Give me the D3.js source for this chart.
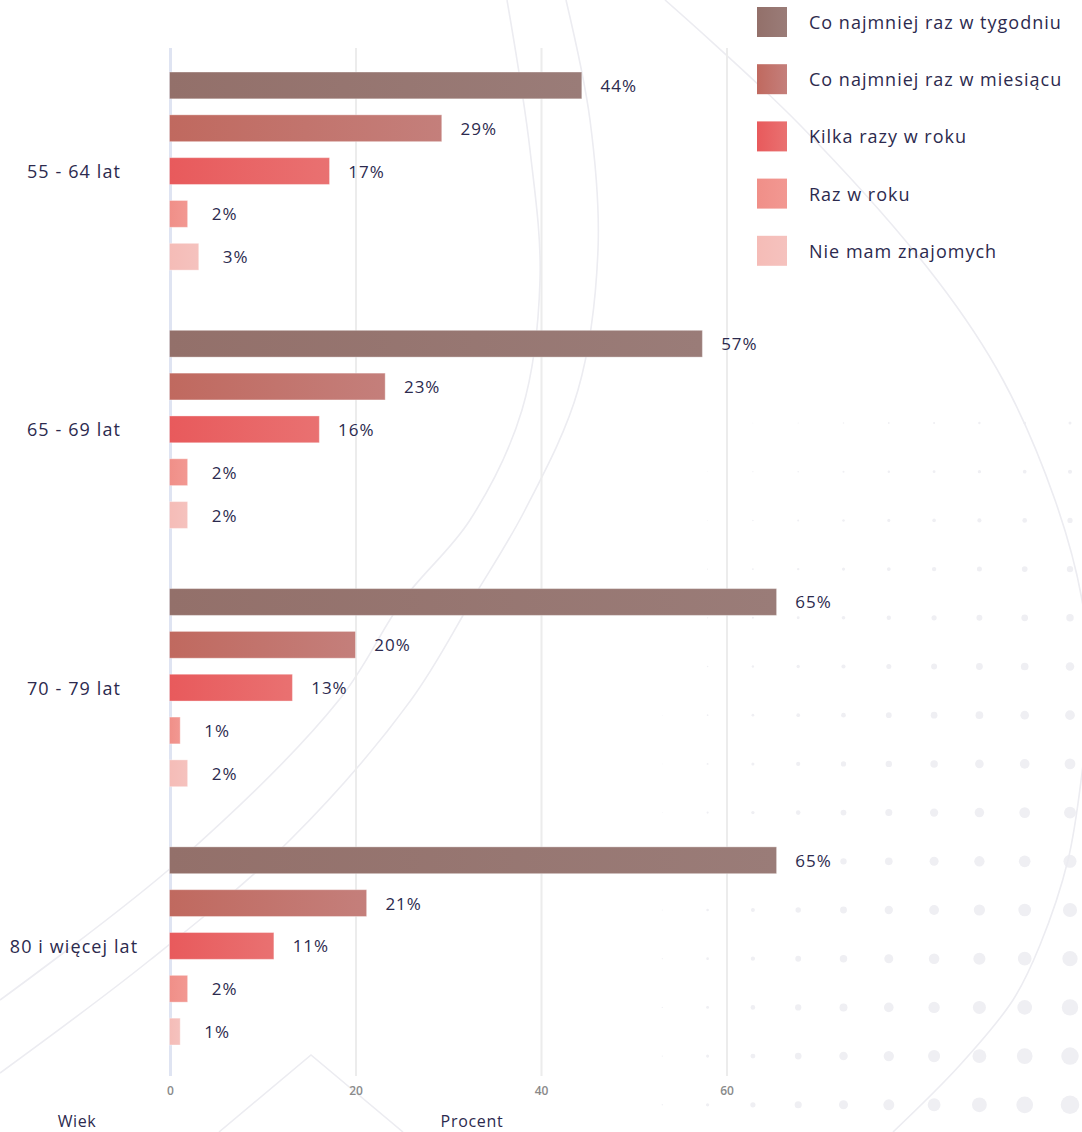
<!DOCTYPE html>
<html>
<head>
<meta charset="utf-8">
<script src="https://cdn.jsdelivr.net/npm/d3@7"></script>
<style>
  html, body { margin: 0; padding: 0; background: #fff; }
  svg { display: block; font-family: "Open Sans", "Noto Sans", sans-serif; }
</style>
</head>
<body>
<div id="chart"></div>
<script>
// --- data ---
const ageGroups = ['55 - 64 lat', '65 - 69 lat', '70 - 79 lat', '80 i więcej lat'];
const seriesNames = [
  'Co najmniej raz w tygodniu',
  'Co najmniej raz w miesiącu',
  'Kilka razy w roku',
  'Raz w roku',
  'Nie mam znajomych'
];
const weekly    = [44.4, 57.4, 65.4, 65.4];
const monthly   = [29.3, 23.2, 20.0, 21.2];
const fewTimes  = [17.2, 16.1, 13.2, 11.2];
const yearly    = [1.9, 1.9, 1.1, 1.9];
const noFriends = [3.1, 1.9, 1.9, 1.1];
const xTicks = [0, 20, 40, 60];

const seriesValues = [weekly, monthly, fewTimes, yearly, noFriends];
// left / right colour of each bar gradient
const seriesColors = [
  ['#93706a', '#9a7c78'],
  ['#c0695f', '#c47f7b'],
  ['#e85a5c', '#e97171'],
  ['#f08f88', '#f29892'],
  ['#f5bcb7', '#f5c2be']
];

const width = 1082, height = 1132;
const textColor = '#2c2a4e';

const svg = d3.select('#chart').append('svg')
  .attr('width', width)
  .attr('height', height);

const defs = svg.append('defs');

// --- background decoration: dot field + faint arcs ---
const deco = svg.append('g');
const dotCols = d3.range(10).map(k => 1070 - k * 45.3);
const dotRows = d3.range(15).map(k => 423 + k * 48.7);
const dots = [];
for (const cy of dotRows) {
  for (const cx of dotCols) {
    const u = (0.7 + Math.max(0, cx - 662) / 408 * 8.6) / 9.3;
    const v = (1.5 + (cy - 423) / 682 * 7.8) / 9.3;
    const r = 9.3 * u * v;
    if (r > 0.35) dots.push({ cx, cy, r });
  }
}
deco.selectAll('circle').data(dots).join('circle')
  .attr('cx', d => d.cx).attr('cy', d => d.cy).attr('r', d => d.r)
  .attr('fill', '#efeff3');

const curve = d3.line().curve(d3.curveCatmullRom.alpha(0.5));
const arcs = [
  [[507, 0], [530, 150], [540, 280], [522, 410], [470, 520], [403, 600], [339, 700], [180, 860], [0, 1000]],
  [[566, 0], [590, 120], [598, 250], [578, 390], [525, 510], [472, 600], [411, 700], [290, 840], [150, 960], [0, 1073]],
  [[665, 0], [800, 125], [937, 280], [1003, 380], [1055, 500], [1082, 600], [1090, 690], [1082, 773],
   [1068, 860], [1040, 945], [1013, 1000], [960, 1065], [893, 1132]],
  [[219, 1132], [311, 1055], [403, 1132]]
];
deco.selectAll('path').data(arcs).join('path')
  .attr('d', (d, i) => i === 3 ? d3.line()(d) : curve(d))
  .attr('fill', 'none')
  .attr('stroke', '#ececf1')
  .attr('stroke-width', 1.6);

// --- scales ---
const x = d3.scaleLinear().domain([0, 70]).range([170, 170 + 70 * 9.275]);
const yGroup = d3.scaleBand().domain(ageGroups)
  .range([48, 1069]).paddingInner(0.233).paddingOuter(0.093);
const ySeries = d3.scaleBand().domain(seriesNames)
  .range([0, yGroup.bandwidth()]).paddingInner(0.374);

// gradients
seriesColors.forEach((c, i) => {
  const g = defs.append('linearGradient').attr('id', `grad-${i}`)
    .attr('x1', '0%').attr('x2', '100%');
  g.append('stop').attr('offset', '0%').attr('stop-color', c[0]);
  g.append('stop').attr('offset', '100%').attr('stop-color', c[1]);
});

// --- grid / x axis ---
const gridTop = 48, gridBottom = 1076;
const xAxis = svg.append('g')
  .attr('transform', `translate(0,${gridBottom})`)
  .call(d3.axisBottom(x).tickValues(xTicks).tickSize(-(gridBottom - gridTop)).tickPadding(10));
xAxis.select('.domain').remove();
xAxis.selectAll('.tick line')
  .attr('stroke', d => d === 0 ? '#dfe4f2' : '#ececec')
  .attr('stroke-width', d => d === 0 ? 3 : 2);
xAxis.selectAll('.tick text')
  .attr('fill', '#8a8a8a')
  .attr('font-size', '12px')
  .attr('font-weight', 600)
  .attr('font-family', '"Open Sans", sans-serif');

// --- bars ---
const rows = [];
ageGroups.forEach((grp, gi) => {
  seriesNames.forEach((s, si) => {
    rows.push({ grp, s, si, value: seriesValues[si][gi] });
  });
});

const barG = svg.append('g');
barG.selectAll('rect').data(rows).join('rect')
  .attr('x', x(0) - 0.5)
  .attr('y', d => yGroup(d.grp) + ySeries(d.s))
  .attr('width', d => x(d.value) - x(0) + 0.5)
  .attr('height', ySeries.bandwidth())
  .attr('fill', d => `url(#grad-${d.si})`)
  .attr('stroke', 'rgba(255,255,255,0.35)')
  .attr('stroke-width', 1);

barG.selectAll('text').data(rows).join('text')
  .attr('x', d => x(d.value) + 37)
  .attr('y', d => yGroup(d.grp) + ySeries(d.s) + ySeries.bandwidth() / 2)
  .attr('text-anchor', 'middle')
  .attr('dominant-baseline', 'central')
  .attr('fill', textColor)
  .attr('font-size', '17px')
  .attr('letter-spacing', '1px')
  .text(d => Math.round(d.value) + '%');

// --- category labels ---
svg.append('g').selectAll('text').data(ageGroups).join('text')
  .attr('x', 74)
  .attr('y', d => yGroup(d) + yGroup.bandwidth() / 2)
  .attr('text-anchor', 'middle')
  .attr('dominant-baseline', 'central')
  .attr('fill', textColor)
  .attr('font-size', '18px')
  .attr('letter-spacing', '1.1px')
  .text(d => d);

// --- axis titles ---
svg.append('text')
  .attr('x', 77).attr('y', 1127)
  .attr('text-anchor', 'middle')
  .attr('fill', textColor).attr('font-size', '16px')
  .attr('letter-spacing', '0.6px')
  .text('Wiek');
svg.append('text')
  .attr('x', 472).attr('y', 1127)
  .attr('text-anchor', 'middle')
  .attr('fill', textColor).attr('font-size', '16px')
  .attr('letter-spacing', '0.7px')
  .text('Procent');

// --- legend ---
const legend = svg.append('g').attr('transform', 'translate(757,7)');
const legendItem = legend.selectAll('g').data(seriesNames).join('g')
  .attr('transform', (d, i) => `translate(0,${i * 57.2})`);
legendItem.append('rect')
  .attr('width', 30).attr('height', 30)
  .attr('fill', (d, i) => `url(#grad-${i})`);
legendItem.append('text')
  .attr('x', 52).attr('y', 15)
  .attr('dominant-baseline', 'central')
  .attr('fill', textColor)
  .attr('font-size', '18px')
  .attr('letter-spacing', '1px')
  .text(d => d);
</script>
</body>
</html>
